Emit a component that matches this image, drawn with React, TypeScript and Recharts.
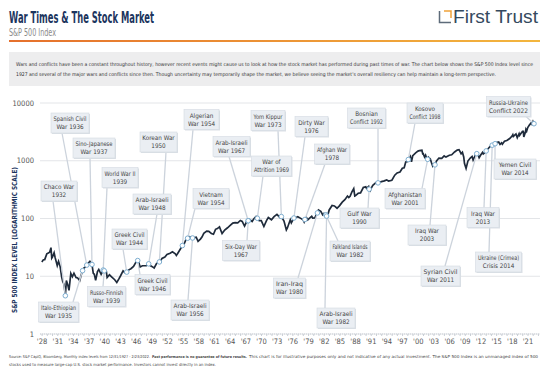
import React from "react";
import {
  LineChart,
  Line,
  XAxis,
  YAxis,
  CartesianGrid,
  ReferenceDot,
} from "recharts";

// S&P 500 level (year as decimal)
const dates = [
  1927.95, 1928.25, 1928.5, 1928.9, 1929.2, 1929.45, 1929.7, 1929.85, 1930.0, 1930.3,
  1930.5, 1930.9, 1931.15, 1931.45, 1931.75, 1931.95, 1932.2, 1932.45, 1932.65, 1932.95,
  1933.15, 1933.5, 1933.8, 1934.1, 1934.5, 1934.8, 1935.2, 1935.5, 1935.75, 1936.0,
  1936.3, 1936.55, 1936.9, 1937.15, 1937.55, 1937.8, 1938.0, 1938.25, 1938.6, 1938.85,
  1939.3, 1939.7, 1939.9, 1940.3, 1940.45, 1940.9, 1941.3, 1941.9, 1942.3, 1942.7,
  1943.0, 1943.5, 1943.9, 1944.2, 1944.6, 1945.0, 1945.5, 1945.95, 1946.3, 1946.45,
  1946.75, 1947.2, 1947.6, 1947.95, 1948.4, 1948.7, 1949.0, 1949.45, 1949.9, 1950.45,
  1950.55, 1950.95, 1951.5, 1951.9, 1952.5, 1952.95, 1953.5, 1953.7, 1953.95, 1954.5,
  1954.85, 1955.2, 1955.55, 1955.85, 1956.25, 1956.55, 1956.8, 1957.5, 1957.85, 1958.3,
  1958.6, 1958.95, 1959.5, 1959.9, 1960.4, 1960.8, 1961.2, 1961.55, 1961.95, 1962.45,
  1962.95, 1963.5, 1963.95, 1964.5, 1964.95, 1965.45, 1965.95, 1966.3, 1966.75, 1967.2,
  1967.45, 1967.7, 1968.2, 1968.5, 1968.95, 1969.2, 1969.55, 1969.95, 1970.45, 1970.95,
  1971.3, 1971.9, 1972.4, 1972.95, 1973.5, 1973.8, 1974.3, 1974.75, 1974.95, 1975.5,
  1975.7, 1976.2, 1976.7, 1976.95, 1977.5, 1977.95, 1978.15, 1978.3, 1978.6, 1978.85,
  1979.2, 1979.6, 1979.8, 1980.2, 1980.45, 1980.7, 1980.9, 1981.35, 1981.7, 1981.95,
  1982.3, 1982.45, 1982.6, 1982.95, 1983.5, 1983.95, 1984.45, 1984.95, 1985.45, 1985.95,
  1986.45, 1986.7, 1986.95, 1987.3, 1987.65, 1987.85, 1987.95, 1988.5, 1988.95, 1989.5,
  1989.7, 1989.95, 1990.1, 1990.5, 1990.6, 1990.8, 1990.95, 1991.3, 1991.9, 1992.3,
  1992.6, 1992.95, 1993.5, 1993.95, 1994.3, 1994.95, 1995.5, 1995.95, 1996.5, 1996.95,
  1997.3, 1997.6, 1997.95, 1998.1, 1998.5, 1998.7, 1998.95, 1999.5, 1999.95, 2000.2,
  2000.7, 2000.85, 2000.95, 2001.2, 2001.4, 2001.7, 2001.8, 2001.95, 2002.3, 2002.55,
  2002.75, 2002.95, 2003.2, 2003.5, 2003.95, 2004.5, 2004.95, 2005.3, 2005.95, 2006.4,
  2006.95, 2007.45, 2007.8, 2007.95, 2008.2, 2008.45, 2008.7, 2008.85, 2009.15, 2009.5,
  2009.95, 2010.3, 2010.5, 2010.95, 2011.2, 2011.35, 2011.65, 2011.95, 2012.3, 2012.45,
  2012.95, 2013.0, 2013.4, 2013.95, 2014.15, 2014.7, 2014.95, 2015.4, 2015.65, 2015.95,
  2016.1, 2016.5, 2016.95, 2017.5, 2017.95, 2018.1, 2018.2, 2018.7, 2018.95, 2019.3,
  2019.4, 2019.95, 2020.1, 2020.2, 2020.5, 2020.6, 2020.75, 2020.95, 2021.3, 2021.6,
  2021.75, 2021.95, 2022.05, 2022.15,
];

const levels = [
  17.7, 19.3, 19.4, 24.4, 25.3, 26, 31.3, 20.6, 21.7, 25.5,
  21, 15.3, 18.1, 14.8, 9.7, 8.1, 7.3, 4.6, 8.4, 6.9,
  5.7, 11.2, 9.8, 11.3, 9.5, 9.3, 8.4, 10.6, 12.5, 13.8,
  14.5, 15.6, 17.1, 18.1, 16, 11.2, 10.8, 8.5, 12, 13.1,
  10.8, 12.8, 12.4, 12, 9.5, 10.6, 9.8, 8.7, 7.8, 9,
  10.1, 12.4, 11.5, 11.8, 12.9, 13.5, 14.8, 17.4, 18.7, 18.3,
  14.5, 15.2, 15.2, 15.3, 16.4, 15.3, 14.8, 13.9, 16.6, 17.7,
  17.5, 20.4, 21.5, 23.8, 25, 26.6, 24.5, 23, 24.8, 30,
  34, 36.6, 43.5, 45.5, 48.5, 47.5, 46, 47.4, 40.3, 44,
  47.8, 55.2, 60.5, 59.9, 55, 53.4, 65, 66.8, 71.5, 54.8,
  63.1, 69.1, 75, 83.2, 84.8, 84.1, 92.4, 89, 74, 90.2,
  91.5, 96.7, 89.1, 98, 108.4, 101, 91.8, 92.1, 72.7, 92.2,
  103.9, 95.2, 107.7, 118, 104.3, 108, 90, 63.5, 68.6, 95,
  83.9, 102, 105, 107.5, 100.5, 95.1, 87, 96, 103.9, 94.7,
  101.6, 109.3, 101.8, 102.1, 114.2, 125, 140.5, 132.6, 116.2, 122.6,
  116, 110, 107, 140.6, 168, 164.9, 150.6, 167.2, 191.9, 211.3,
  245, 231, 242, 288, 329.8, 245, 247, 273.5, 277.7, 346,
  349, 353.4, 331.9, 358, 322, 304, 330.2, 375, 417, 414,
  424, 435.7, 448, 466.5, 445.8, 459.3, 562, 615.9, 639.9, 740.7,
  757, 954, 970.4, 1050, 1186, 957, 1229, 1372, 1469, 1498,
  1517, 1315, 1320, 1160, 1255, 1040, 1060, 1148, 1076, 911,
  815, 880, 850, 990, 1112, 1101, 1212, 1156, 1248, 1270,
  1418, 1530, 1549, 1468, 1322, 1400, 1166, 896, 735, 987,
  1115, 1186, 1030, 1258, 1326, 1345, 1131, 1258, 1398, 1310,
  1426, 1480, 1631, 1848, 1860, 1972, 2059, 2107, 1920, 2044,
  1940, 2174, 2239, 2423, 2674, 2824, 2640, 2914, 2507, 2946,
  2752, 3231, 3225, 2585, 3100, 3500, 3270, 3756, 4181, 4522,
  4307, 4766, 4516, 4380,
];

const eventNames = [
  "Spanish Civil\nWar 1936",
  "Sino-Japanese\nWar 1937",
  "Chaco War\n1932",
  "World War II\n1939",
  "Korean War\n1950",
  "Arab-Israeli\nWar 1948",
  "Greek Civil\nWar 1944",
  "Italo-Ethiopian\nWar 1935",
  "Russo-Finnish\nWar 1939",
  "Greek Civil\nWar 1946",
  "Arab-Israeli\nWar 1956",
  "Algerian\nWar 1954",
  "Arab-Israeli\nWar 1967",
  "Vietnam\nWar 1954",
  "Yom Kippur\nWar 1973",
  "War of\nAttrition 1969",
  "Six-Day War\n1967",
  "Dirty War\n1976",
  "Afghan War\n1978",
  "Iran-Iraq\nWar 1980",
  "Bosnian\nConflict 1992",
  "Gulf War\n1990",
  "Falkland Islands\nWar 1982",
  "Arab-Israeli\nWar 1982",
  "Kosovo\nConflict 1998",
  "Afghanistan\nWar 2001",
  "Iraq War\n2003",
  "Syrian Civil\nWar 2011",
  "Iraq War\n2013",
  "Ukraine (Crimea)\nCrisis 2014",
  "Yemen Civil\nWar 2014",
  "Russia-Ukraine\nConflict 2022",
];

const eventDates = [
  1936.55, 1937.55, 1932.45, 1939.7, 1950.45, 1948.4, 1944.2, 1935.75, 1939.9, 1946.3,
  1956.8, 1954.85, 1967.45, 1955.85, 1973.8, 1969.2, 1967.45, 1976.2, 1978.3, 1980.7,
  1992.3, 1990.6, 1982.3, 1982.45, 1998.1, 2001.8, 2003.2, 2011.2, 2013.0, 2014.15,
  2014.7, 2022.15,
];

const eventLevels = [
  15.6, 16, 4.6, 12.8, 17.7, 16.4, 11.8, 12.5, 12.4, 18.7,
  46, 34, 91.5, 45.5, 108, 101, 91.5, 102, 96, 125,
  414, 322, 116, 110, 1050, 1060, 850, 1326, 1480, 1860,
  1972, 4380,
];

const yTicks = [1, 10, 100, 1000, 10000];
const labelYears = [
  1928, 1931, 1934, 1937, 1940, 1943, 1946, 1949, 1952, 1955, 1958, 1961, 1964, 1967,
  1970, 1973, 1976, 1979, 1982, 1985, 1988, 1991, 1994, 1997, 2000, 2003, 2006, 2009,
  2012, 2015, 2018, 2021,
];

// callout boxes: centre x, centre y, width, leader x on box edge (px)
const boxes = [
  [70, 123, 38, 62], [94, 148, 42, 90], [59, 191, 36, 53], [120, 177.5, 36, 107],
  [158.5, 142, 37, 166], [152, 204, 38, 157], [129.5, 239, 35, 123], [58.5, 312, 40, 73],
  [106.5, 296.5, 38, 103], [152.5, 284.5, 35, 140], [190, 310, 38, 188], [201.5, 119.5, 35, 193],
  [231.5, 146.5, 37, 229], [211, 198.5, 36, 195], [268, 120.5, 34, 278], [271.5, 166, 40, 263],
  [241, 250.5, 37, 247], [311.5, 126.5, 33, 305], [332, 154, 35, 325], [289.5, 288, 32, 298],
  [366.5, 118, 38, 378], [359.5, 218, 39, 368], [350, 251, 40, 338], [336, 318, 38, 325],
  [425, 113, 36, 415], [405, 198.5, 40, 422], [427, 235, 38, 430], [440.5, 276, 39, 445],
  [483, 217.5, 32, 484], [498.5, 262, 46, 489], [515, 169, 42, 495], [508.5, 106.5, 44, 526],
];
const BOX_H = 20;
const BOX_FONT = 6.3;

const narrow = "'Liberation Sans Narrow', 'DejaVu Sans Condensed', 'Roboto', sans-serif";

const data = dates.map((t, i) => ({ t, v: levels[i] }));
const minorTicks: number[] = [];
for (let y = 1928; y <= 2023; y++) minorTicks.push(y);

const leaderShape = (i: number) => (props: any) => {
  const { cx, cy } = props;
  const [, by, , ax] = boxes[i];
  const ay = cy > by ? by + BOX_H / 2 : by - BOX_H / 2;
  return <line x1={ax} y1={ay} x2={cx} y2={cy} stroke="#ccd3dc" strokeWidth={1.3} />;
};

const boxShape = (i: number) => () => {
  const [bx, by, w] = boxes[i];
  const lines = eventNames[i].split("\n");
  return (
    <g>
      <rect x={bx - w / 2 + 1} y={by - BOX_H / 2 + 1} width={w} height={BOX_H} fill="#dbe0e6" />
      <rect
        x={bx - w / 2}
        y={by - BOX_H / 2}
        width={w}
        height={BOX_H}
        fill="#eaeef3"
        stroke="#d4dae2"
        strokeWidth={0.6}
      />
      {lines.map((l, k) => {
        const est = l.length * BOX_FONT * 0.48;
        const fit = est > w - 5 ? { textLength: w - 5, lengthAdjust: "spacingAndGlyphs" } : {};
        return (
          <text
            key={k}
            x={bx}
            y={by - 2 + k * 8}
            textAnchor="middle"
            fontSize={BOX_FONT}
            fontFamily={narrow}
            fill="#444"
            {...fit}
          >
            {l}
          </text>
        );
      })}
    </g>
  );
};

const markerShape = (props: any) => (
  <circle cx={props.cx} cy={props.cy} r={2.3} fill="#ffffff" stroke="#7eaed0" strokeWidth={1} />
);

export default function App() {
  return (
    <div
      style={{
        position: "absolute",
        left: 0,
        top: 0,
        width: 547,
        height: 381,
        background: "#fff",
        overflow: "hidden",
      }}
    >
      <svg width={547} height={381} style={{ position: "absolute", left: 0, top: 0 }}>
        <defs>
          <linearGradient id="rule" x1="0" x2="1" y1="0" y2="0">
            <stop offset="0" stopColor="#e5702c" />
            <stop offset="1" stopColor="#f3b63e" />
          </linearGradient>
        </defs>
        <text x={9} y={23} fontSize={15} fontWeight="bold" fill="#1c355e" fontFamily={narrow}
          textLength={145} lengthAdjust="spacingAndGlyphs">
          War Times &amp; The Stock Market
        </text>
        <text x={9} y={36} fontSize={10} fill="#8a8a8a" fontFamily={narrow}
          textLength={47} lengthAdjust="spacingAndGlyphs">
          S&amp;P 500 Index
        </text>
        <path d="M439.5 11 V22.5 H451" fill="none" stroke="#5d6b7a" strokeWidth={1.5} />
        <path d="M444 11 H451 V18" fill="none" stroke="#f0a23a" strokeWidth={1.5} />
        <text x={453} y={23} fontSize={18} fill="#34495e" fontFamily="'Liberation Sans', Arial, sans-serif"
          textLength={85} lengthAdjust="spacingAndGlyphs">
          First Trust
        </text>
        <rect x={9} y={40} width={531} height={2} fill="url(#rule)" />
        <rect x={9} y={52} width={531} height={34} fill="#ededee" />
        <text x={16} y={66} fontSize={5} fill="#333" fontFamily={narrow}
          textLength={517} lengthAdjust="spacingAndGlyphs">
          Wars and conflicts have been a constant throughout history, however recent events might cause us to look at how the stock market has performed during past times of war. The chart below shows the S&amp;P 500 Index level since
        </text>
        <text x={16} y={75.5} fontSize={5} fill="#333" fontFamily={narrow}
          textLength={480} lengthAdjust="spacingAndGlyphs">
          1927 and several of the major wars and conflicts since then. Though uncertainty may temporarily shape the market, we believe seeing the market's overall resiliency can help maintain a long-term perspective.
        </text>
        <text
          transform="translate(16.5 240) rotate(-90)"
          textAnchor="middle"
          fontSize={7}
          fontWeight="bold"
          fill="#1c355e"
          fontFamily={narrow}
          textLength={146}
          lengthAdjust="spacingAndGlyphs"
        >
          S&amp;P 500 INDEX LEVEL (LOGARITHMIC SCALE)
        </text>
        <text x={9} y={358} fontSize={3.9} fill="#444" fontFamily={narrow}
          textLength={141} lengthAdjust="spacingAndGlyphs">
          Source: S&amp;P CapIQ, Bloomberg. Monthly index levels from 12/31/1927 - 2/23/2022.
        </text>
        <text x={152} y={358} fontSize={3.7} fontWeight="bold" fill="#444" fontFamily={narrow}
          textLength={95} lengthAdjust="spacingAndGlyphs">
          Past performance is no guarantee of future results.
        </text>
        <text x={249} y={358} fontSize={4} fill="#444" fontFamily={narrow}
          textLength={289} lengthAdjust="spacingAndGlyphs">
          This chart is for illustrative purposes only and not indicative of any actual investment. The S&amp;P 500 Index is an unmanaged index of 500
        </text>
        <text x={9} y={366} fontSize={4} fill="#444" fontFamily={narrow}
          textLength={207} lengthAdjust="spacingAndGlyphs">
          stocks used to measure large-cap U.S. stock market performance. Investors cannot invest directly in an index.
        </text>
      </svg>
      <div style={{ position: "absolute", left: 0, top: 0 }}>
        <LineChart
          width={547}
          height={381}
          data={data}
          margin={{ top: 103, right: 7, left: 0, bottom: 27 }}
        >
          <CartesianGrid horizontal vertical={false} stroke="#e3e5e8" />
          <XAxis
            type="number"
            dataKey="t"
            domain={[1927.6, 2023.3]}
            ticks={minorTicks}
            interval={0}
            height={20}
            tickSize={2}
            tickMargin={3}
            axisLine={{ stroke: "#c9ced5", strokeDasharray: "1 1" }}
            tickLine={{ stroke: "#c9ced5" }}
            tick={{ fontSize: 7.5, fill: "#555", fontFamily: narrow }}
            tickFormatter={(v: number) =>
              labelYears.includes(v) ? "'" + String(v).slice(2) : ""
            }
          />
          <YAxis
            scale="log"
            domain={[1, 10000]}
            ticks={yTicks}
            allowDataOverflow
            width={40}
            axisLine={false}
            tickLine={false}
            tickSize={0}
            tickMargin={6}
            interval={0}
            tick={{ fontSize: 7.5, fill: "#555", fontFamily: narrow }}
          />
          {eventDates.map((t, i) => (
            <ReferenceDot key={"l" + i} x={t} y={eventLevels[i]} shape={leaderShape(i)} />
          ))}
          <Line
            type="linear"
            dataKey="v"
            stroke="#1f2b3b"
            strokeWidth={1.7}
            dot={false}
            isAnimationActive={false}
          />
          {eventDates.map((t, i) => (
            <ReferenceDot key={"m" + i} x={t} y={eventLevels[i]} shape={markerShape} />
          ))}
          {eventDates.map((t, i) => (
            <ReferenceDot key={"b" + i} x={t} y={eventLevels[i]} shape={boxShape(i)} />
          ))}
        </LineChart>
      </div>
    </div>
  );
}
